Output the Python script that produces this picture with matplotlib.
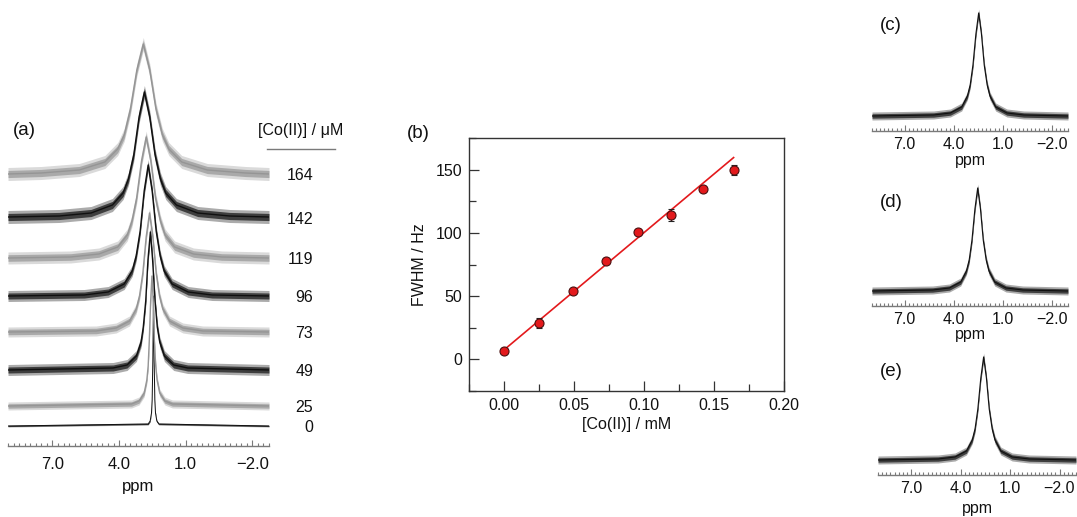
import numpy as np
import matplotlib
matplotlib.use("Agg")
import matplotlib.pyplot as plt
from matplotlib import transforms
from matplotlib.ticker import MultipleLocator

plt.rcParams['font.family'] = ['Liberation Sans', 'DejaVu Sans']

W, H = 1077, 517

# ---- panel (a): stacked spectra, Co(II) in uM (bottom -> top)
conc_um = [0, 25, 49, 73, 96, 119, 142, 164]

# ppm positions / intensities (px above baseline)
ppm_0 = [9.0, 2.69, 2.60, 2.54, 2.51, 2.48, 2.45, 2.42, 2.39, 2.36, 2.30, 2.21, -2.75]
int_0 = [0, 2, 5, 13, 26, 65, 130, 65, 26, 13, 5, 2, 0]
ppm_25 = [9.0, 3.44, 3.10, 2.87, 2.75, 2.69, 2.64, 2.58, 2.52, 2.46, 2.41, 2.35, 2.29, 2.17, 1.94, 1.60, -2.75]
int_25 = [0, 2, 5, 13, 26, 40, 65, 104, 130, 104, 65, 40, 26, 13, 5, 2, 0]
ppm_49 = [9.0, 4.27, 3.64, 3.22, 3.01, 2.91, 2.80, 2.70, 2.59, 2.49, 2.38, 2.28, 2.17, 1.96, 1.54, 0.91, -2.75]
int_49 = [0, 2, 5, 14, 28, 43, 69, 110, 138, 110, 69, 43, 28, 14, 5, 2, 0]
ppm_73 = [9.0, 5.03, 4.13, 3.53, 3.23, 3.08, 2.93, 2.78, 2.63, 2.48, 2.33, 2.18, 2.03, 1.73, 1.13, 0.23, -2.75]
int_73 = [1, 2, 5, 12, 24, 37, 60, 96, 120, 96, 60, 37, 24, 12, 5, 2, 1]
ppm_96 = [9.0, 5.57, 4.49, 3.77, 3.41, 3.23, 3.05, 2.87, 2.69, 2.51, 2.33, 2.15, 1.97, 1.61, 0.89, -0.19, -2.75]
int_96 = [1, 2, 5, 13, 26, 41, 66, 106, 132, 106, 66, 41, 26, 13, 5, 2, 1]
ppm_119 = [9.0, 6.18, 4.91, 4.06, 3.63, 3.42, 3.21, 2.99, 2.78, 2.57, 2.36, 2.14, 1.93, 1.50, 0.65, -0.62, -2.75]
int_119 = [1, 2, 5, 12, 24, 38, 61, 98, 122, 98, 61, 38, 24, 12, 5, 2, 1]
ppm_142 = [9.0, 6.70, 5.26, 4.30, 3.82, 3.58, 3.34, 3.10, 2.86, 2.62, 2.38, 2.14, 1.90, 1.42, 0.46, -0.98, -2.75]
int_142 = [1, 2, 5, 13, 25, 39, 63, 101, 126, 101, 63, 39, 25, 13, 5, 2, 1]
ppm_164 = [9.0, 7.51, 5.79, 4.64, 4.06, 3.77, 3.49, 3.20, 2.91, 2.62, 2.34, 2.05, 1.76, 1.18, 0.03, -1.69, -2.75]
int_164 = [1, 2, 5, 13, 26, 40, 66, 105, 131, 105, 66, 40, 26, 13, 5, 2, 1]

spec_ppm = [ppm_0, ppm_25, ppm_49, ppm_73, ppm_96, ppm_119, ppm_142, ppm_164]
spec_int = [int_0, int_25, int_49, int_73, int_96, int_119, int_142, int_164]

# ---- panel (b): linewidth vs concentration
conc_mm = [0.0, 0.025, 0.049, 0.073, 0.096, 0.119, 0.142, 0.164]
fwhm_hz = [7, 29, 54, 78, 101, 114, 135, 150]
fwhm_err = [2, 4, 2, 2, 2, 5, 2, 4]
fit_intercept = 7.5
fit_slope = 927.0

# ---- panels (c)-(e)
ppm_c = [9.0, 5.23, 4.20, 3.51, 3.16, 2.99, 2.82, 2.64, 2.47, 2.30, 2.13, 1.95, 1.78, 1.43, 0.74, -0.29, -3.0]
int_c = [1, 2, 4, 10, 21, 32, 52, 83, 104, 83, 52, 32, 21, 10, 4, 2, 1]
ppm_d = [9.0, 5.29, 4.26, 3.57, 3.22, 3.05, 2.88, 2.70, 2.53, 2.36, 2.19, 2.01, 1.84, 1.49, 0.80, -0.23, -3.0]
int_d = [1, 2, 4, 10, 21, 32, 52, 83, 104, 83, 52, 32, 21, 10, 4, 2, 1]
ppm_e = [9.0, 5.36, 4.33, 3.64, 3.29, 3.12, 2.95, 2.77, 2.60, 2.43, 2.26, 2.08, 1.91, 1.56, 0.87, -0.16, -3.0]
int_e = [1, 2, 4, 10, 21, 32, 52, 83, 104, 83, 52, 32, 21, 10, 4, 2, 1]

BLACK = '#101010'
GREY = '#959595'
AXGREY = '#7a7a7a'
FS = 11.5


def px_axes(fig, x0, y0, x1, y1):
    # rectangle given in pixel coords of the 1077x517 canvas (y from top)
    return fig.add_axes([x0 / W, 1 - y1 / H, (x1 - x0) / W, (y1 - y0) / H])


def draw_trace(ax, ppm, inten, base, noise, color, lw):
    # noisy trace shown as a soft band (outer fringe + dense core) around the line
    y = base + np.asarray(inten, float)
    ax.fill_between(ppm, y - noise, y + noise, color=color, alpha=0.35, lw=0)
    ax.fill_between(ppm, y - 0.55 * noise, y + 0.55 * noise, color=color, alpha=0.7, lw=0)
    ax.plot(ppm, y, color=color, lw=lw)


def ppm_axis(ax, xlim, ytop, fs, pad, lpad):
    ax.set_xlim(*xlim)
    ax.set_ylim(0, ytop)
    for s in ['top', 'right', 'left']:
        ax.spines[s].set_visible(False)
    ax.spines['bottom'].set_color(AXGREY)
    ax.spines['bottom'].set_linewidth(1.0)
    ax.set_yticks([])
    ax.set_xticks([7.0, 4.0, 1.0, -2.0])
    ax.set_xticklabels(['7.0', '4.0', '1.0', '\u22122.0'])
    ax.xaxis.set_minor_locator(MultipleLocator(0.25))
    ax.tick_params(axis='x', which='both', direction='in', color=AXGREY, width=0.8)
    ax.tick_params(axis='x', which='major', length=4, labelsize=fs, pad=pad, labelcolor='#111')
    ax.tick_params(axis='x', which='minor', length=2.5)
    ax.patch.set_visible(False)
    ax.set_xlabel('ppm', fontsize=fs, labelpad=lpad, color='#111')


fig = plt.figure(figsize=(W / 100, H / 100), dpi=100)

# ---------------- (a)
ax_a = px_axes(fig, 8, 30, 269, 446)
base_a = [20, 40, 76, 113, 149, 187, 228, 271]
noise_a = [1.0, 4.0, 5.5, 5.0, 5.5, 6.0, 6.5, 6.5]
for i, (p, v) in enumerate(zip(spec_ppm, spec_int)):
    col = BLACK if i % 2 == 0 else GREY
    lw = 0.7 if i == 0 else 1.0
    draw_trace(ax_a, p, v, base_a[i], noise_a[i], col, lw)
ppm_axis(ax_a, (9.0, -2.75), 416, 12, 8, 5)

lab_tr = transforms.blended_transform_factory(fig.transFigure, ax_a.transData)
for i, c in enumerate(conc_um):
    ax_a.text(313 / W, base_a[i] - 1, str(c), transform=lab_tr, ha='right', va='center',
              fontsize=FS, color='#111', clip_on=False)
fig.text(301 / W, 1 - 131 / H, '[Co(II)] / \u03bcM', ha='center', va='center', fontsize=FS, color='#111')
fig.add_artist(plt.Line2D([267 / W, 335 / W], [1 - 149 / H, 1 - 149 / H], color=AXGREY, lw=1.0))
fig.text(24 / W, 1 - 130 / H, '(a)', ha='center', va='center', fontsize=13.5, color='#111')

# ---------------- (b)
ax_b = px_axes(fig, 469, 138, 784, 391)
fit_x = [conc_mm[0], conc_mm[-1]]
ax_b.plot(fit_x, [fit_intercept + fit_slope * x for x in fit_x], color='#e3191c', lw=1.2, zorder=2)
ax_b.errorbar(conc_mm, fwhm_hz, yerr=fwhm_err, fmt='o', ms=6.5, mfc='#e3191c', mec='#4a1010', mew=0.8,
              ecolor='#222222', elinewidth=0.9, capsize=2.5, capthick=0.9, zorder=3)
ax_b.set_xlim(-0.025, 0.2)
ax_b.set_ylim(-25, 175)
ax_b.set_xticks([0.0, 0.05, 0.10, 0.15, 0.20])
ax_b.set_xticklabels(['0.00', '0.05', '0.10', '0.15', '0.20'])
ax_b.set_yticks([0, 50, 100, 150])
ax_b.xaxis.set_minor_locator(MultipleLocator(0.025))
ax_b.yaxis.set_minor_locator(MultipleLocator(25))
ax_b.tick_params(which='both', direction='in', color='#333', width=0.9, labelsize=FS, labelcolor='#111')
ax_b.tick_params(which='major', length=7, pad=5)
ax_b.tick_params(which='minor', length=5)
for s in ax_b.spines.values():
    s.set_color('#333')
    s.set_linewidth(1.0)
ax_b.set_xlabel('[Co(II)] / mM', fontsize=FS, labelpad=3, color='#111')
ax_b.set_ylabel('FWHM / Hz', fontsize=FS, labelpad=6, color='#111')
fig.text(418 / W, 1 - 133 / H, '(b)', ha='center', va='center', fontsize=13.5, color='#111')

# ---------------- (c), (d), (e)
small = [
    ('(c)', ppm_c, int_c, (872, 6, 1068, 131), 25, 1),
    ('(d)', ppm_d, int_d, (872, 181, 1068, 306), 202, 0),
    ('(e)', ppm_e, int_e, (878, 350, 1076, 475), 372, 4),
]
for tag, p, v, box, ty, lp in small:
    ax = px_axes(fig, *box)
    draw_trace(ax, p, v, 14, 4.0, BLACK, 0.8)
    ppm_axis(ax, (9.0, -3.0), 125, 11.5, 4, lp)
    fig.text(891 / W, 1 - ty / H, tag, ha='center', va='center', fontsize=13.5, color='#111')

fig.savefig('out.png', dpi=100)
